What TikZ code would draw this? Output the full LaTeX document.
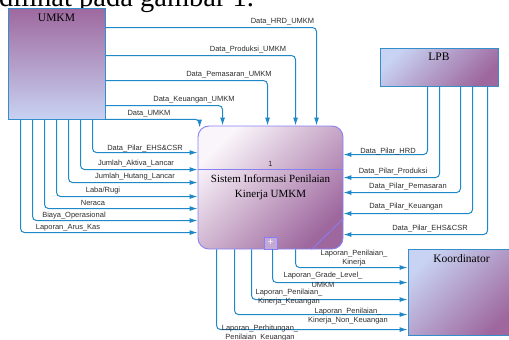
\documentclass[tikz,border=0pt]{standalone}
\usepackage{fontspec}
\setmainfont{Liberation Serif}
\setsansfont{Liberation Sans}
\usepackage{tikz}
\usetikzlibrary{arrows.meta}
\usetikzlibrary{calc}
\usetikzlibrary{positioning}
\definecolor{flowblue}{RGB}{30,136,200}
\definecolor{entityline}{RGB}{52,142,204}
\definecolor{procline}{RGB}{135,128,245}
\definecolor{pilarpurple}{RGB}{158,104,158}
\definecolor{paleblue}{RGB}{200,210,242}
\definecolor{paleprocess}{RGB}{250,245,250}
\definecolor{plusfill}{RGB}{196,168,214}
\definecolor{labelgray}{RGB}{45,45,45}
\tikzstyle{every node}+=[inner sep=0pt]
\tikzstyle{entity} = [rectangle, draw=entityline, line width=0.9pt, top color=paleblue, bottom color=pilarpurple, shading angle=45]
\tikzstyle{title} = [font=\fontsize{11.5}{13}\selectfont]
\tikzstyle{process} = [rectangle, draw=procline, line width=0.9pt, rounded corners=11pt, top color=paleprocess, bottom color=pilarpurple, shading angle=45, align=center, font=\fontsize{11}{15}\selectfont]
\tikzstyle{procedge} = [draw=procline, line width=0.8pt]
\tikzstyle{plusbox} = [rectangle, draw=procline, line width=0.7pt, fill=plusfill, minimum width=13pt, minimum height=12pt, text=white, font=\sffamily\fontsize{10}{10}\selectfont]
\tikzstyle{line} = [draw=flowblue, line width=1pt, rounded corners=4pt, -{Latex[length=8pt, width=5pt]}]
\tikzstyle{value} = [text=labelgray, align=center, font=\sffamily\fontsize{7.5}{9.5}\selectfont]

\begin{document}
\begin{tikzpicture}[x=1pt, y=1pt, auto]
            % Frame
            \useasboundingbox (0,0) rectangle (509,-340);
            \clip (0,0) rectangle (509,-340);
            \node [anchor=base west, font=\fontsize{28.5}{30}\selectfont] (intro) at (-1,-6) {dilihat pada gambar 1.};
            % Place nodes
            \node [entity, top color=pilarpurple, bottom color=paleblue, minimum width=97pt, minimum height=111pt, label={[title, anchor=north, yshift=-6.5pt]north:UMKM}] (umkm) at (56.5,-63.5) {};
            \node [entity, minimum width=118pt, minimum height=38pt, label={[title, anchor=north, yshift=-5pt]north:LPB}] (lpb) at (439,-67) {};
            \node [entity, minimum width=107pt, minimum height=86pt, label={[title, anchor=north, yshift=-6pt]north:Koordinator}] (koor) at (461.5,-292) {};
            \node [process, minimum width=145pt, minimum height=123pt] (proc) at (270.5,-187.5) {Sistem Informasi Penilaian\\Kinerja UMKM};
            \node [value] (procno) at ($(proc.north)+(0,-38)$) {1};
            \node [plusbox, anchor=south] (plus) at (proc.south) {+};
            \path [procedge] ($(proc.north west)+(0,-44)$) -- ($(proc.north east)+(0,-44)$);
            \path [procedge] ($(proc.north east)+(0,-93)$) -- ($(proc.south west)+(114,0)$);
            % Draw edges
            \path [line] ($(umkm.north east)+(0,-20)$) -| ($(proc.north west)+(119,0)$);
            \path [line] ($(umkm.north east)+(0,-48)$) -| ($(proc.north west)+(98,0)$);
            \path [line] ($(umkm.north east)+(0,-73)$) -| ($(proc.north west)+(70,0)$);
            \path [line] ($(umkm.north east)+(0,-98)$) -| ($(proc.north west)+(25,0)$);
            \path [line] (umkm.south east) -| ($(proc.north west)+(2,-2)$);
            \path [line] ($(umkm.south west)+(85,0)$) |- ($(proc.north west)+(0,-27)$);
            \path [line] ($(umkm.south west)+(73,0)$) |- ($(proc.north west)+(0,-44)$);
            \path [line] ($(umkm.south west)+(61,0)$) |- ($(proc.north west)+(0,-57)$);
            \path [line] ($(umkm.south west)+(49,0)$) |- ($(proc.north west)+(0,-71)$);
            \path [line] ($(umkm.south west)+(37,0)$) |- ($(proc.north west)+(0,-83)$);
            \path [line] ($(umkm.south west)+(25,0)$) |- ($(proc.north west)+(0,-95)$);
            \path [line] ($(umkm.south west)+(13,0)$) |- ($(proc.north west)+(0,-107)$);
            \path [line] ($(lpb.south west)+(48,0)$) |- ($(proc.north east)+(0,-29)$);
            \path [line] ($(lpb.south west)+(60,0)$) |- ($(proc.north east)+(0,-52)$);
            \path [line] ($(lpb.south west)+(81,0)$) |- ($(proc.north east)+(0,-67)$);
            \path [line] ($(lpb.south west)+(93,0)$) |- ($(proc.north east)+(0,-88)$);
            \path [line] ($(lpb.south west)+(108,0)$) |- ($(proc.north east)+(0,-109)$);
            \path [line] ($(proc.south west)+(98,0)$) |- ($(koor.north west)+(0,-19)$);
            \path [line] ($(proc.south west)+(75,0)$) |- ($(koor.north west)+(0,-34)$);
            \path [line] ($(proc.south west)+(54,0)$) |- ($(koor.north west)+(0,-51)$);
            \path [line] ($(proc.south west)+(37,0)$) |- ($(koor.north west)+(0,-66)$);
            \path [line] ($(proc.south west)+(19,0)$) |- ($(koor.north west)+(0,-81)$);
            % Flow labels
            \node [value] (hrd) at (282.5,-22) {Data\_HRD\_UMKM};
            \node [value] (produksi) at (248,-50) {Data\_Produksi\_UMKM};
            \node [value] (pemasaran) at (229,-75) {Data\_Pemasaran\_UMKM};
            \node [value] (keuangan) at (194,-100) {Data\_Keuangan\_UMKM};
            \node [value] (dataumkm) at (149,-114) {Data\_UMKM};
            \node [value] (ehsumkm) at (145,-149) {Data\_Pilar\_EHS\&CSR};
            \node [value] (aktiva) at (136,-164) {Jumlah\_Aktiva\_Lancar};
            \node [value] (hutang) at (135,-177) {Jumlah\_Hutang\_Lancar};
            \node [value] (labarugi) at (103,-191) {Laba/Rugi};
            \node [value] (neraca) at (93,-203) {Neraca};
            \node [value] (biaya) at (74,-216) {Biaya\_Operasional};
            \node [value] (aruskas) at (68,-228) {Laporan\_Arus\_Kas};
            \node [value] (pilarhrd) at (388,-152) {Data\_Pilar\_HRD};
            \node [value] (pilarprod) at (393,-172) {Data\_Pilar\_Produksi};
            \node [value] (pilarpem) at (408,-187) {Data\_Pilar\_Pemasaran};
            \node [value] (pilarkeu) at (406,-207) {Data\_Pilar\_Keuangan};
            \node [value] (pilarehs) at (430,-229) {Data\_Pilar\_EHS\&CSR};
            \node [value] (lapkinerja) at (354,-258) {Laporan\_Penilaian\_\\Kinerja};
            \node [value] (lapgrade) at (323,-280) {Laporan\_Grade\_Level\_\\UMKM};
            \node [value] (lapkeu) at (289,-297) {Laporan\_Penilaian\_\\Kinerja\_Keuangan};
            \node [value] (lapnonkeu) at (348,-316) {Laporan\_Penilaian\_\\Kinerja\_Non\_Keuangan};
            \node [value] (lapperhitungan) at (260,-333) {Laporan\_Perhitungan\_\\Penilaian\_Keuangan};
\end{tikzpicture}
\end{document}
